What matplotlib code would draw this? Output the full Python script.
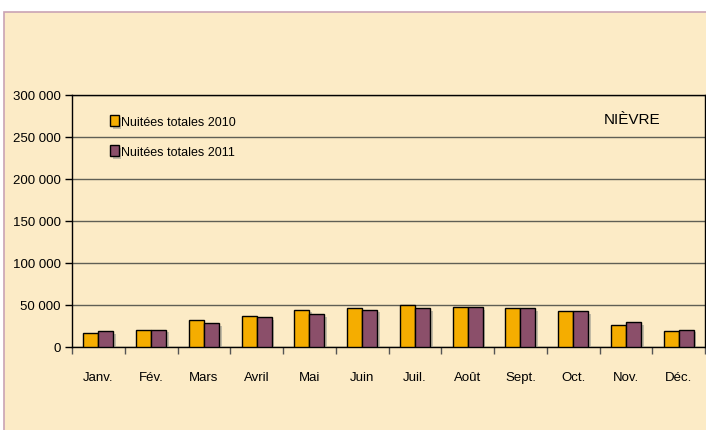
import matplotlib.pyplot as plt
import matplotlib.patheffects as pe
import numpy as np
from matplotlib import font_manager
from matplotlib.patches import Rectangle
from matplotlib.ticker import FuncFormatter

mois = ["Janv.", "Fév.", "Mars", "Avril", "Mai", "Juin",
        "Juil.", "Août", "Sept.", "Oct.", "Nov.", "Déc."]
nuitees_2010 = [17000, 20600, 31700, 36900, 44400, 46400,
                49600, 47600, 46000, 42500, 26200, 19000]
nuitees_2011 = [19000, 20600, 28100, 35300, 39200, 44400,
                46400, 47600, 46000, 42500, 29800, 20600]

noms = {f.name for f in font_manager.fontManager.ttflist}
police = "Liberation Sans Narrow" if "Liberation Sans Narrow" in noms else "Liberation Sans"
plt.rcParams["font.family"] = [police, "DejaVu Sans"]

fond = "#FCEBC6"
fig = plt.figure(figsize=(7.06, 4.31), dpi=100)
fig.patch.set_facecolor("white")
fig.patches.append(Rectangle((4 / 706, -0.01), 1.0, 0.97 + 0.01,
                             transform=fig.transFigure, facecolor=fond,
                             edgecolor="#C9A3B4", linewidth=1.2, zorder=-10))

ax = fig.add_axes([72 / 706, 1 - 348 / 431, 633 / 706, 252 / 431])
ax.set_facecolor(fond)

x = np.arange(len(mois))
largeur = 0.285
ombre = [pe.SimplePatchShadow(offset=(2, -2), shadow_rgbFace="#9a9a90", alpha=0.6), pe.Normal()]
b1 = ax.bar(x - largeur / 2, nuitees_2010, largeur, color="#F5AD00",
            edgecolor="black", linewidth=1.0, label="Nuitées totales 2010", zorder=3)
b2 = ax.bar(x + largeur / 2, nuitees_2011, largeur, color="#8B4F6A",
            edgecolor="black", linewidth=1.0, label="Nuitées totales 2011", zorder=3)
for b in list(b1) + list(b2):
    b.set_path_effects(ombre)

ax.set_xlim(-0.5, len(mois) - 0.5)
ax.set_ylim(0, 300000)
ax.set_yticks(np.arange(0, 300001, 50000))
ax.yaxis.set_major_formatter(FuncFormatter(lambda v, p: f"{int(v):,}".replace(",", " ")))
ax.grid(axis="y", color="#5f5f55", linewidth=1.0, zorder=1)
ax.set_axisbelow(True)

ax.set_xticks(x)
ax.set_xticklabels(mois)
ax.set_xticks(np.arange(-0.5, len(mois)), minor=True)
ax.tick_params(axis="x", which="major", length=0, pad=17, labelsize=9.5)
ax.tick_params(axis="x", which="minor", length=5, width=1, color="#555555")
ax.tick_params(axis="y", length=5, width=1, labelsize=9.5, pad=3)

for s in ax.spines.values():
    s.set_color("black")
    s.set_linewidth(1.0)

ax.legend(loc="upper left", bbox_to_anchor=(0.042, 0.966), frameon=False,
          fontsize=9, handlelength=0.7, handleheight=1.0, handletextpad=0.2,
          labelspacing=1.4)
ax.text(0.885, 0.905, "NIÈVRE", transform=ax.transAxes, fontsize=11,
        ha="center", va="center")

fig.savefig("out.png", dpi=100, facecolor=fig.get_facecolor())
